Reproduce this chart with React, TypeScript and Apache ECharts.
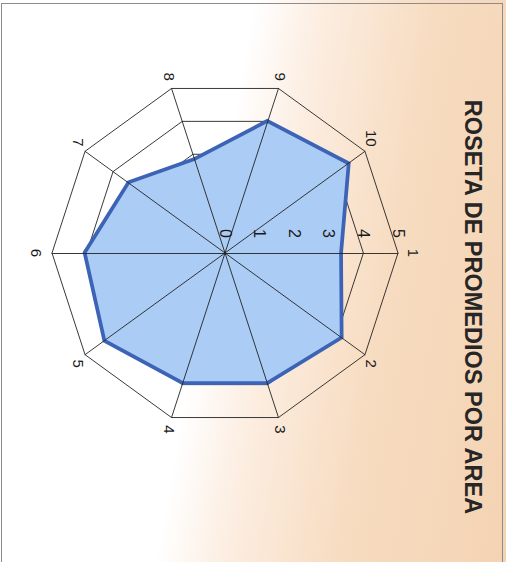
import { useEffect, useRef } from "react";
import * as echarts from "echarts";

const areas = ["1", "2", "3", "4", "5", "6", "7", "8", "9", "10"];
const promedios = [3.3, 4.1, 3.9, 3.9, 4.25, 4.0, 3.4, 2.8, 3.95, 4.35];
const scaleMin = 0;
const scaleMax = 5;
const scaleSteps = 5;
const titleText = "ROSETA DE PROMEDIOS POR AREA";

const FONT = "'Liberation Sans', Arial, sans-serif";

export default function App() {
  const ref = useRef<HTMLDivElement>(null);

  useEffect(() => {
    const chart = echarts.init(ref.current!, null, { renderer: "svg" });
    // ECharts places indicators counter-clockwise; the original runs clockwise
    const order = [0].concat(areas.slice(1).map((_, i) => areas.length - 1 - i));

    const baseIndicators = order.map((i) => ({ name: areas[i], min: scaleMin, max: scaleMax }));
    const topIndicators = order.map((i, k) => ({
      name: areas[i],
      min: scaleMin,
      max: scaleMax,
      ...(k === 0
        ? {
            axisLabel: {
              show: true,
              fontSize: 16,
              color: "#1a1a1a",
              fontFamily: FONT,
              margin: 15,
            },
          }
        : {}),
    }));

    const common = {
      center: [253, 281],
      radius: 173,
      startAngle: 90,
      shape: "polygon",
      splitNumber: scaleSteps,
    };

    chart.setOption({
      animation: false,
      backgroundColor: "transparent",
      graphic: [
        {
          type: "text",
          x: 307,
          y: 21,
          z: 10,
          style: {
            text: titleText,
            fontSize: 23.5,
            fontWeight: "bold",
            fontFamily: FONT,
            fill: "#262626",
            align: "center",
            verticalAlign: "top",
          },
        },
      ],
      radar: [
        {
          ...common,
          indicator: baseIndicators,
          z: 0,
          nameGap: 8,
          axisName: { color: "#1a1a1a", fontSize: 15, fontFamily: FONT },
          splitLine: { show: true, lineStyle: { color: "#222", width: 0.9 } },
          splitArea: { show: false },
          axisLine: { show: false },
          axisTick: { show: false },
          axisLabel: { show: false },
        },
        {
          ...common,
          indicator: topIndicators,
          z: 5,
          axisName: { show: false },
          splitLine: { show: false },
          splitArea: { show: false },
          axisLine: { show: true, lineStyle: { color: "#222", width: 0.9 } },
          axisTick: { show: false },
          axisLabel: { show: false },
        },
      ],
      series: [
        {
          type: "radar",
          radarIndex: 0,
          z: 2,
          symbol: "none",
          lineStyle: { color: "#3C63B6", width: 7.5, join: "miter" },
          areaStyle: { color: "#AACCF5", opacity: 1 },
          data: [{ value: order.map((i) => promedios[i]), name: "Promedio" }],
        },
      ],
    });

    return () => chart.dispose();
  }, []);

  return (
    <div
      style={{
        position: "fixed",
        left: 0,
        top: 0,
        width: 506,
        height: 562,
        overflow: "hidden",
        background:
          "linear-gradient(100deg, #ffffff 0%, #ffffff 42%, #FCEEE2 53%, #F7DCC1 72%, #F4D3B3 100%)",
      }}
    >
      <div
        style={{
          position: "absolute",
          left: 1,
          top: 3,
          width: 502,
          height: 580,
          border: "1px solid #8c8c8c",
          boxSizing: "border-box",
        }}
      />
      <div
        ref={ref}
        style={{
          position: "absolute",
          left: 0,
          top: 0,
          width: 562,
          height: 506,
          transformOrigin: "0 0",
          transform: "translateX(506px) rotate(90deg)",
        }}
      />
    </div>
  );
}
